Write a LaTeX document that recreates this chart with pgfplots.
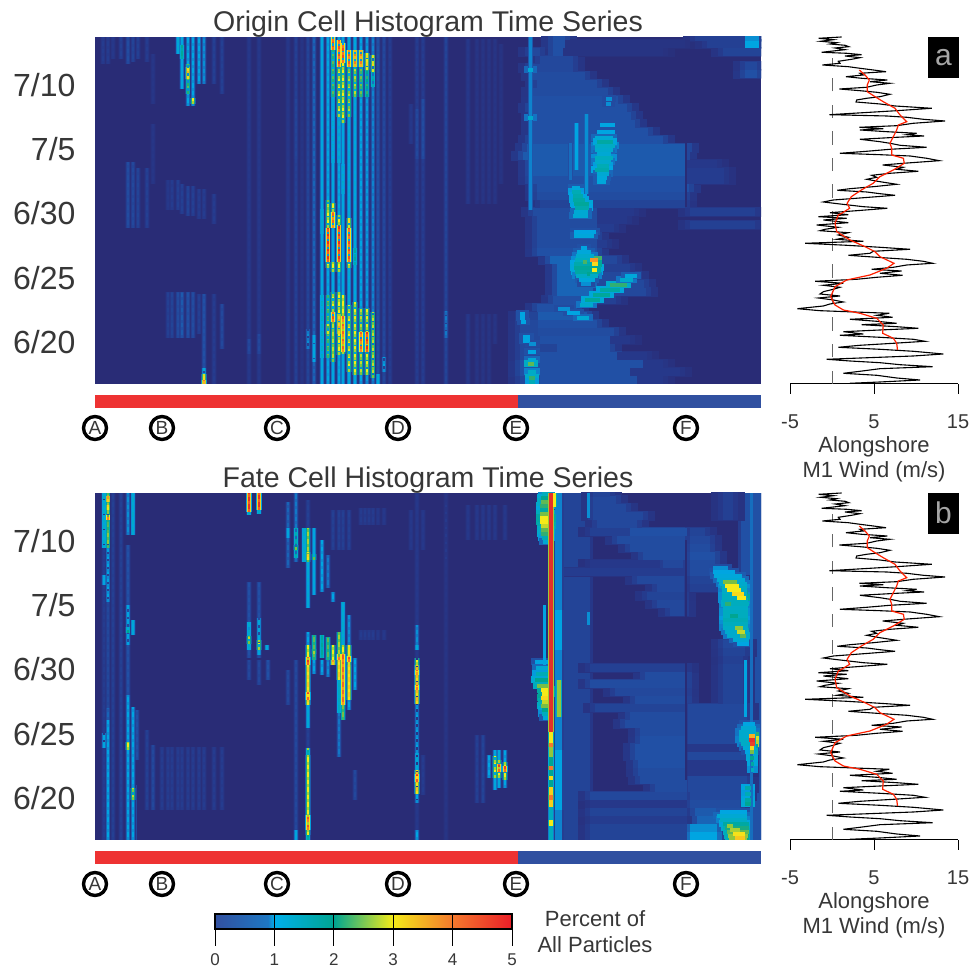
\documentclass[border=0pt]{standalone}
\usepackage{fontspec}
\setmainfont{Liberation Sans}
\usepackage{pgfplots}
\usepackage{pgfplotstable}
\pgfplotsset{compat=1.18}
\definecolor{txt}{RGB}{55,55,55}
\definecolor{barred}{RGB}{238,50,50}
\definecolor{barblue}{RGB}{48,80,160}
\definecolor{navy}{RGB}{41,44,118}
\pgfplotsset{
 colormap={heat}{rgb255(0cm)=(41,44,118); rgb255(3mm)=(38,56,138); rgb255(6mm)=(33,80,165); rgb255(8mm)=(18,120,198); rgb255(10mm)=(0,165,225); rgb255(15mm)=(0,172,190); rgb255(20mm)=(0,165,145); rgb255(25mm)=(120,190,70); rgb255(30mm)=(245,235,25); rgb255(35mm)=(250,190,30); rgb255(40mm)=(245,120,45); rgb255(50mm)=(225,30,40)},
 colormap={cb}{rgb255(0mm)=(50,80,160); rgb255(9mm)=(30,120,195); rgb255(10mm)=(0,175,235); rgb255(20mm)=(0,165,145); rgb255(30mm)=(245,235,25); rgb255(40mm)=(245,120,45); rgb255(50mm)=(235,30,40)},
}
\pgfplotstableread{
x y w m
445 4 123 .3
445 4 97 .6
445 12 140 .3
445 12 90 .6
445 20 123 .3
445 20 103 .6
445 28 107 .3
445 28 77 .6
442 36 20 .45
462 36 53 .6
445 44 90 .3
445 44 70 .6
442 52 77 .55
442 60 60 .6
442 68 50 .65
442 76 40 .6
458 84 30 .6
488 84 33 .4
462 92 37 .7
498 92 53 .5
462 100 40 .7
502 100 47 .5
462 108 40 .7
502 108 40 .5
462 116 47 .7
508 116 27 .4
455 124 47 .7
502 124 20 .5
442 132 60 .6
442 140 60 .55
502 140 10 .35
442 148 60 .55
442 156 60 .55
502 156 17 .35
442 164 60 .55
502 164 30 .3
438 172 64 .55
502 172 37 .3
595 172 65 .4
595 159 65 .4
445 180 145 .45
442 188 148 .55
442 196 152 .6
435 204 155 .6
592 204 37 .35
435 212 155 .65
592 212 37 .35
435 220 155 .65
592 220 30 .3
428 228 162 .65
432 236 160 .65
435 244 133 .6
438 252 115 .6
438 260 102 .6
438 268 98 .6
435 276 97 .6
438 284 85 .6
438 292 75 .55
442 300 60 .55
438 308 52 .55
435 316 43 .5
650 310 12 .6
650 318 12 .5
445 324 33 .5
468 332 100 .2
458 332 10 .6
435 332 10 .5
628 332 38 .45
468 340 122 .2
458 340 12 .6
612 340 54 .4
650 340 14 1
458 347 12 .6
600 347 66 .4
650 347 14 .9
425 4 20 .5
425 12 20 .6
425 20 20 .6
425 28 20 .5
425 36 20 .5
425 44 20 .5
425 52 18 .5
425 60 18 .5
425 68 18 .45
}\bandA
\pgfplotstableread{
x y w m
505 259 15 1
502 252 18 1
500 246 18 1.2
500 238 20 1.4
500 234 18 1.3
502 230 14 1.2
500 226 18 1.5
500 222 16 1.3
502 218 12 1.6
500 214 14 1.7
502 210 12 1.2
502 206 10 1.1
502 202 9 1.1
502 242 16 1.8
511 285 6 .9
511 280 5 .9
477 196 8 1.1
477 192 9 1.6
478 188 10 1.7
478 184 12 1.8
479 180 15 1.9
480 176 14 1.7
479 172 14 1.2
478 168 15 1.2
479 152 22 1
479 148 20 1.1
486 136 6 1
482 132 14 1.1
481 128 18 1.3
480 124 20 1.5
479 120 24 1.7
479 116 26 1.9
480 112 24 1.8
481 108 22 1.4
484 104 16 1.1
486 100 10 .9
488 122 4 2.3
495 124 8 3.8
497 120 6 3.2
497 114 5 3
492 110 3 2
485 79 13 1.3
490 84 15 1.9
498 89 17 1.9
505 94 20 1.8
515 99 17 2.2
525 104 13 1.3
530 108 12 1.1
463 75 12 .9
472 71 13 1
482 66 12 1.2
425 70 5 1
425 66 5 1
426 62 5 1
428 47 7 1
428 43 7 1
434 40 7 .9
433 32 8 1
433 24 8 1.2
433 20 6 2.4
433 12 8 1.4
434 6 6 2.2
434 2 6 1.6
433 314 5 1.2
433 266 5 1.3
}\spotA
\pgfplotstableread{
x y h m
8 320 27 .35
13 320 27 .35
18 325 22 .3
26 325 22 .4
33 320 27 .55
38 322 25 .45
43 325 22 .4
52 322 25 .35
33 156 66 .55
38 156 66 .5
43 156 60 .45
52 156 60 .4
58 200 60 .25
58 280 50 .25
73 174 30 .3
77 174 30 .35
83 330 17 1.2
83 174 30 .4
87 295 52 1.1
87 325 14 1.9
87 170 30 .4
93 278 69 1
93 290 30 2.4
93 305 12 3.6
93 168 30 .45
98 278 69 1
98 280 6 3
98 168 30 .4
104 300 47 1
104 165 30 .35
109 300 47 .9
109 165 30 .35
119 300 47 .4
119 160 30 .35
127 290 57 .4
73 46 46 .4
77 46 46 .45
83 46 46 .55
87 46 46 .65
93 46 46 .6
98 46 46 .55
104 50 40 .4
109 10 80 .6
109 0 16 1.2
109 0 10 3.2
109 0 4 4
119 0 90 .35
127 35 45 .5
154 0 347 .3
154 30 15 .5
164 0 347 .3
164 30 20 .5
193 0 347 .28
201 0 347 .4
201 225 60 .45
207 0 347 .22
213 0 347 .45
213 35 20 .9
219 0 347 .7
219 22 27 1.1
227 0 347 1.1
227 26 63 1.5
227 150 25 1.3
233 0 347 1.05
233 26 63 2.5
233 50 10 3.2
233 116 6 3
233 122 34 4.8
233 156 23 3
233 174 10 2.8
238 0 347 1.1
238 22 40 2.8
238 62 10 4.5
238 72 20 3
238 112 10 3
238 156 16 4.3
238 172 9 3
238 221 66 1.3
238 287 47 2.4
238 334 13 4.6
244 0 347 1.05
244 29 63 3
244 50 20 3.7
244 112 10 3
244 122 37 4.8
244 159 10 3
244 221 46 1.3
244 267 50 3
244 317 27 4.5
248 0 347 1.1
248 30 59 3
248 32 36 4.3
248 190 30 1.3
248 261 60 3
248 321 20 4.5
254 0 347 1.15
254 12 67 3
254 116 6 3
254 122 34 4.5
254 156 10 3.2
254 267 50 2.8
254 317 17 4.3
260 0 347 1.15
260 9 73 3
260 119 17 1.8
260 287 30 2.8
260 317 17 4
266 0 347 1
266 9 67 2.8
266 32 20 4.3
266 287 30 2.5
266 317 17 4
272 0 347 .95
272 9 67 3
272 32 20 4.8
272 287 27 2.2
272 314 17 3.3
278 0 347 .85
278 6 66 2.8
278 297 15 1.8
278 312 17 3.2
283 0 347 .6
283 0 10 1.2
289 0 347 .5
289 12 15 1
295 0 347 .35
322 0 347 .35
322 225 50 .5
328 0 347 .35
328 225 60 .55
316 240 40 .3
351 0 347 .45
351 46 27 .8
373 0 70 .3
373 180 165 .3
382 0 70 .22
382 180 165 .22
388 0 70 .22
388 180 165 .22
394 0 70 .22
394 180 165 .22
400 40 30 .22
400 180 165 .22
406 200 140 .2
}\stripeA
\pgfplotstableread{
x y h m
435 174 173 .85
481 214 47 1
491 190 80 .9
475 204 37 .75
}\stripeAr
\pgfplotstableread{
x y w m
495 4 97 .45
595 4 27 1
495 12 97 .45
595 12 27 .9
495 20 97 .35
602 20 25 .7
495 28 97 .45
600 28 35 .65
495 36 97 .3
595 36 50 .55
495 44 97 .5
595 44 55 .5
560 52 32 .55
545 60 47 .55
543 68 49 .55
543 76 49 .6
540 84 52 .6
540 92 52 .6
545 100 47 .6
545 108 47 .55
530 116 62 .55
535 124 57 .55
500 132 92 .45
540 140 52 .55
520 148 72 .5
495 156 97 .55
550 164 42 .55
495 172 97 .4
593 52 59 .5
593 60 59 .5
593 68 59 .3
593 76 59 .3
593 84 59 .5
593 92 59 .3
593 100 59 .5
593 108 59 .5
593 116 59 .5
593 124 59 .5
593 132 59 .5
628 140 20 .45
628 148 20 .45
628 156 20 .45
628 164 20 .45
628 172 20 .45
628 180 20 .4
628 188 22 .45
628 196 22 .5
575 228 14 .5
562 236 27 .5
552 244 37 .45
562 252 27 .5
595 252 33 .4
542 260 47 .5
595 260 50 .45
468 268 122 .35
595 268 25 .55
495 276 70 .3
568 276 20 .5
595 276 25 .55
548 284 43 .55
595 284 25 .6
535 292 57 .55
595 292 20 .55
522 300 68 .55
595 300 20 .5
495 308 40 .4
535 308 57 .6
595 308 15 .45
502 316 40 .5
498 324 50 .5
628 324 10 .4
498 332 33 .5
628 332 10 .4
498 340 23 .5
628 340 10 .4
498 347 17 .45
628 347 10 .4
}\bandB
\pgfplotstableread{
x y w m
618 272 15 .9
618 268 22 1
619 264 28 1.1
622 260 28 1.2
625 256 27 1.3
627 252 25 1.5
627 248 25 1.4
627 244 25 1.5
627 240 26 1.5
628 236 26 1.5
628 232 25 1.4
628 228 25 1.5
628 224 25 1.5
628 220 25 1.6
628 216 25 1.5
628 212 25 1.4
630 208 24 1.3
632 204 22 1.3
638 200 16 1.2
642 196 12 1
628 258 14 2.5
630 254 14 3
632 250 14 3
637 246 12 3.2
642 242 9 3
630 236 6 2.2
635 224 8 2
640 212 8 2.6
642 208 8 2.8
645 204 6 2.4
447 346 9 1.5
446 342 10 2
446 338 10 2.4
445 334 11 2.2
445 330 10 1.8
445 326 11 2.5
445 322 12 3
445 318 12 3
446 314 11 2.8
446 310 10 2.4
446 306 10 2.2
447 302 9 1.6
448 298 7 1.2
440 178 14 1
441 172 14 1.2
441 166 14 1.6
440 160 15 2
442 154 13 2.5
446 150 10 3
447 146 9 3
446 142 9 3.2
447 138 8 2.8
446 134 9 2.5
447 130 8 2
447 126 8 1.5
448 122 7 1.1
648 116 12 1
646 112 15 1.2
644 108 17 1.3
644 104 17 1.3
644 100 17 1.4
646 96 15 1.4
648 92 13 1.2
650 88 10 1
654 104 6 3.6
654 100 6 4.8
655 96 5 4.6
655 92 4 3.2
655 88 4 2.5
655 82 4 2
656 76 3 1.8
656 70 3 1.5
650 52 6 1.7
650 46 6 1.6
650 40 6 1.8
650 36 6 2
625 28 27 1
622 24 30 1.2
625 20 27 1.4
628 16 26 1.8
630 12 24 2.1
632 8 22 2.4
633 4 20 2.6
634 0 18 2.6
632 14 6 2.6
635 10 10 2.7
638 6 12 3.1
640 2 10 3.4
}\spotB
\pgfplotstableread{
x y h m
9 0 347 .35
9 292 55 1.4
9 255 10 1.1
9 92 15 1.1
13 0 347 .5
13 0 120 1
13 120 12 .7
13 238 57 1
13 292 55 2.6
13 338 6 3.8
13 330 5 3.3
13 320 5 4.4
13 310 10 2.4
18 0 347 .4
26 0 347 .4
33 305 42 .9
33 145 150 .6
33 195 40 1.1
33 207 6 2.2
33 0 145 1
33 90 8 3
38 305 42 1.3
38 205 15 1.2
38 0 133 1
38 40 12 2.8
42 80 50 .6
52 30 80 .4
58 30 65 .5
67 30 63 .35
73 30 63 .35
77 30 63 .35
83 30 63 .35
87 30 63 .35
93 30 63 .35
98 30 63 .35
104 30 63 .35
109 30 63 .35
119 30 63 .35
127 30 63 .35
154 328 19 4.8
154 325 3 1.5
154 182 76 .6
154 210 5 1
154 190 28 1.4
154 196 8 2.8
154 160 20 .5
164 330 17 4.8
164 326 4 1.5
164 182 76 .6
164 185 37 1.2
164 190 10 3
164 155 25 .5
172 190 5 1.2
173 160 20 .6
193 272 66 .7
193 302 10 1.1
193 135 35 .5
201 278 69 .8
201 282 30 1.8
201 290 5 2.8
201 0 180 .5
201 0 10 1.1
209 278 34 1.4
213 312 28 .4
213 278 34 2.7
213 280 8 3.3
213 232 46 1.2
213 195 13 1
213 135 60 3.4
213 180 15 3
213 175 8 4.7
213 140 8 4.6
213 112 23 1.2
213 92 20 .4
213 0 92 3
213 85 7 1.8
213 10 15 4.4
213 0 5 2
219 245 67 1.1
219 280 6 2.7
219 180 25 2.4
219 186 5 3
219 166 14 1
227 248 52 1
227 182 23 1.9
227 165 15 1
233 252 33 .8
233 180 23 2.4
233 163 17 .9
238 290 40 .4
238 238 10 1
238 175 20 3
238 175 5 3.8
244 290 40 .4
244 160 48 2.7
244 127 33 1.5
244 83 44 .8
244 160 20 3.4
244 180 6 4.5
248 290 40 .4
248 195 43 1.3
248 185 10 3
248 120 58 4.2
248 120 15 2.5
248 178 8 4.4
254 290 40 .4
254 195 30 .9
254 140 35 3.4
254 175 20 3.2
254 178 6 4.5
254 130 10 1
260 150 32 1
260 40 30 .5
266 315 17 .35
266 200 10 .35
270 315 17 .35
270 200 10 .35
274 315 17 .35
274 200 10 .35
278 315 17 .35
278 200 10 .35
283 315 17 .3
283 200 10 .3
289 315 17 .3
289 200 10 .3
322 0 347 .3
322 195 20 .9
322 190 5 1.2
322 136 44 3.6
322 175 7 3
322 150 5 4.4
322 165 5 4.2
322 87 49 1
322 70 17 1.3
322 46 24 3.5
322 58 8 4.8
322 37 9 1
322 0 10 1
316 290 40 .3
328 45 40 .35
328 290 40 .3
351 280 55 .35
351 0 347 .22
373 300 35 .3
382 37 68 .4
382 300 35 .3
388 37 68 .45
388 300 35 .3
394 62 23 1
394 300 35 .3
400 50 40 1.1
400 62 22 3
400 300 35 .3
404 52 38 1.1
404 62 18 3
404 68 8 4.7
410 52 38 1
410 60 18 3
410 68 6 4.6
410 300 35 .3
}\stripeB
\pgfplotstableread{
x y h m
493 322 25 .9
493 215 13 .9
449 175 60 1
650 123 57 1
656 0 347 .75
}\stripeBr
\pgfplotstableread{
x y h m
36 0 55 1.1
463 0 347 .85
463 190 40 1
463 30 60 1
}\coreB
\pgfplotstableread{
x y h m
464 123 37 2.6
459 333 14 3
456 108 239 4.8
456 97 11 3
456 93 4 4
456 83 10 2.6
456 53 30 2
456 60 4 3.2
456 70 4 4
456 33 20 3.3
456 40 5 4
456 0 33 1.5
456 14 6 3
}\redB
\pgfplotstableread{
x y h m
481 0 347 .45
659 0 347 .6
}\wideB
\pgfplotstableread{
x y h m
591 60 240 0
}\darkB
\pgfplotstableread{
x y h m
591 177 73 0
}\darkA
\pgfplotstableread{
w r
1.15 347
-1.6 345.7
.16 344.3
-1.35 342.7
.56 341.3
-.24 340
1.55 338.7
2 337.3
.36 336
1.55 334.3
.16 333
-1.23 331.7
1.75 330.7
3.53 329.3
1.55 328
3.33 326.3
2.34 324.7
.75 322.7
.95 320.7
-1.15 319
1.94 317.3
3.33 315.7
4.92 314
6.43 312.3
3.33 310.7
3.73 309
1.67 307.3
3.53 305.7
6.59 304
4.52 302.3
6.9 300.7
5.32 299
4.13 296.7
.87 295
3.33 293.3
5.32 291.7
6.9 289.7
5.71 287.3
4.13 285.7
2.94 284
2.86 282
5.71 280
7.5 278
11.87 275.7
7.7 273.3
3.73 271.3
-.32 269.3
6.51 268
8.89 266.7
10.87 264.7
13.45 263
9.68 260.7
7.7 258.3
3.25 256.7
6.11 255.3
3.33 254
6.51 252.3
10.08 250.7
8.89 249.3
10.95 248
7.7 246.7
3.33 244.7
5.71 242.3
6.9 240.7
8.1 238.7
11.27 236.7
6.9 234.7
4.13 232.7
.95 230.7
5.71 229.3
9.29 228
11.27 225.7
12.78 223.3
8.49 220.7
6.03 219
8.49 216.7
7.7 214.7
10.28 212.7
6.9 210.7
4.72 208.7
5.32 206.7
4.13 204.7
5.71 202.3
7.7 199.7
4.92 197.3
2.14 195.3
.63 193.7
4.13 192
5.71 190.3
7.5 188.7
3.33 186
.16 184
-1.03 182
.95 180
3.73 177.3
6.59 175.7
2.94 173.3
-.24 171.3
1.94 169.3
-1.63 167.3
1.75 165.7
-1.03 164
1.94 161.3
-1.83 159
.75 156.7
-.83 154.7
-1.43 153.3
1.94 151.3
.75 149
1.94 146.7
.56 144.7
3.73 142.7
-3.21 140.7
1.75 138.7
5.71 136.7
9.29 134.7
4.92 132.7
4.52 130.7
1.94 128.7
5.32 126.7
8.89 124.7
10.87 122.7
11.98 120.7
8.89 119
7.3 116.7
4.72 114.7
8.29 113
5.71 110.7
8.41 108.7
5.32 106.7
2.94 104.7
-2.02 102.7
1.35 100.7
-1.03 98.7
.95 96.7
.16 94.7
-1.03 92.3
-1.43 90
.95 88
-1.63 86
.16 84
1.35 82
-.24 80
-1.03 78
-4.13 75.3
-1.43 73.3
1.75 72.3
6.83 70.7
5.32 68.7
7.22 66.7
2.14 64.7
5.32 62.7
7.7 60.7
3.53 59.3
7.7 57.3
10.28 55.7
5.71 54
1.35 52.3
3.73 50
.95 48.7
5.71 46.7
9.68 44.7
11.07 42.7
7.3 40.7
3.33 38.7
.75 36.7
5.71 34.7
9.68 32.7
13.25 30
9.68 28
-.63 24.7
2.14 23
5.71 21.3
8.1 19.3
11.98 17.3
5.71 15.3
3.33 12.7
1.35 10.7
5.32 8.7
7.7 6
10.48 4
5.71 2
2.14 .7
}\windblack
\pgfplotstableread{
w r
3.25 314
3.93 309
4.44 304
4.2 299
4.2 292.3
5.12 287.3
6.1 282.3
7.5 275.7
8.1 269
8.9 262.3
7.9 259
7.7 254
7.3 247.3
6.9 240.7
7.1 235.7
7.1 229
8.5 225.7
8.6 220.7
7.3 214
5.7 207.3
4.9 200.7
3.5 194
2.3 187.3
1.8 180.7
2.1 175.7
1.15 170.7
.75 169
.36 160.7
.56 152.3
2.14 144
3.93 137.3
5.12 132.3
5.71 127.3
7.38 120.7
6.5 115.7
4.52 109
1.75 104
.36 97.3
-.16 87.3
.36 79
1.35 74
3.33 70.7
5.32 65.7
6.1 59
6.03 50.7
7.3 45.7
7.7 40.7
7.8 34
}\windred
\newcommand{\vs}[3]{\addplot[forget plot,quiver={u=0,v=\thisrow{h},colored=mapped color,every arrow/.append style={line width=#1}},line width=#1,point meta=\thisrow{m}*#2] table[x=x,y=y] {#3};}
\newcommand{\vb}[3]{\addplot[forget plot,quiver={u=0,v=\thisrow{h},colored=mapped color,every arrow/.append style={line width=#1,dash pattern=on 3pt off 4.5pt}},line width=#1,point meta=\thisrow{m}*#2] table[x=x,y=y] {#3};}
\newcommand{\hs}[4]{\addplot[forget plot,quiver={u=\thisrow{w}+2*#3,v=0,colored=mapped color,every arrow/.append style={line width=#1}},line width=#1,point meta=\thisrow{m}*#2] table[x expr=\thisrow{x}-#3,y=y] {#4};}
\pgfplotsset{
 heat/.style={scale only axis,width=666pt,height=347pt,xmin=0,xmax=666,ymin=0,ymax=347,
  colormap name=heat,point meta min=0,point meta max=5,
  axis background/.style={fill=navy},axis line style={draw=none},
  xtick=\empty,ytick={42,106,171,235,299},yticklabels={6/20,6/25,6/30,7/5,7/10},
  major tick length=0pt,
  yticklabel style={font=\fontsize{32}{32}\selectfont,text=txt,anchor=east,xshift=-16pt}},
 wind/.style={scale only axis,width=168pt,height=347pt,xmin=-5,xmax=15,ymin=0,ymax=347,
  axis y line=none,axis x line=bottom,x axis line style={-,black,line width=1pt},
  xtick={-5,5,15},xticklabels={-5,5,15},tick align=outside,major tick length=10pt,
  tick style={black,line width=1pt},
  xticklabel style={font=\fontsize{20}{20}\selectfont,text=txt,yshift=-17pt},clip=false},
}
\newcommand{\windplots}{%
 \addplot[forget plot,gray!80!black,line width=1pt,dash pattern=on 13.3pt off 13.3pt] coordinates {(0,0) (0,326)};
 \addplot[forget plot,black,line width=1.1pt] table[x=w,y=r] {\windblack};
 \addplot[forget plot,red!75!orange,line width=1.2pt] table[x=w,y=r] {\windred};
}
\begin{document}
\begin{tikzpicture}[x=1pt,y=1pt]
\path[use as bounding box] (0,0) rectangle (974,973);
% Origin
\begin{axis}[heat,at={(95pt,589pt)},anchor=south west]
\hs{10pt}{.45}{12}{\bandA}
\hs{9pt}{.75}{5}{\bandA}
\hs{8pt}{1}{0}{\bandA}
\vs{2pt}{1}{\darkA}
\vs{5.2pt}{.22}{\stripeA}
\vs{3.7pt}{.7}{\stripeA}
\vs{2.9pt}{1}{\stripeA}
\vb{2.9pt}{.9}{\stripeA}
\hs{7pt}{.6}{4}{\spotA}
\vs{5pt}{.75}{\stripeAr}
\vs{3pt}{1}{\stripeAr}
\hs{4pt}{1}{0}{\spotA}
\end{axis}
% Fate
\begin{axis}[heat,at={(95pt,133pt)},anchor=south west]
\vs{33pt}{.6}{\wideB}
\vs{27pt}{1}{\wideB}
\hs{10pt}{.45}{12}{\bandB}
\hs{9pt}{.75}{5}{\bandB}
\hs{8pt}{1}{0}{\bandB}
\vs{2pt}{1}{\darkB}
\vs{11pt}{.45}{\coreB}
\vs{7pt}{1}{\coreB}
\vs{5.2pt}{.22}{\stripeB}
\vs{3.7pt}{.7}{\stripeB}
\vs{2.9pt}{1}{\stripeB}
\vb{2.9pt}{.9}{\stripeB}
\hs{7pt}{.6}{4}{\spotB}
\vs{3pt}{1}{\stripeBr}
\hs{4pt}{1}{0}{\spotB}
\vs{6pt}{.55}{\redB}
\vs{4pt}{1}{\redB}
\end{axis}
% Wind
\begin{axis}[wind,at={(790pt,589pt)},anchor=south west]
\windplots
\end{axis}
\begin{axis}[wind,at={(790pt,133pt)},anchor=south west]
\windplots
\end{axis}
% Colour bar
\begin{axis}[scale only axis,width=297pt,height=15pt,at={(215pt,44pt)},anchor=south west,
 xmin=0,xmax=5,ymin=0,ymax=1,ytick=\empty,xtick={0,1,2,3,4,5},xtick pos=bottom,
 colormap name=cb,point meta min=0,point meta max=5,
 tick align=outside,major tick length=17pt,tick style={black,line width=1pt},
 axis line style={black,line width=1.2pt},xmajorgrids,grid style={black,line width=1pt},
 axis on top,
 xticklabel style={font=\fontsize{17}{17}\selectfont,text=txt,yshift=-4pt},
 /pgf/number format/assume math mode=true]
\addplot[surf,shader=interp,mesh/rows=2,point meta=x] coordinates {
(0,0) (.9,0) (1,0) (2,0) (3,0) (4,0) (5,0)
(0,1) (.9,1) (1,1) (2,1) (3,1) (4,1) (5,1)};
\end{axis}
% Titles
\node[text=txt,font=\fontsize{28.5}{30}\selectfont] at (428,949) {Origin Cell Histogram Time Series};
\node[text=txt,font=\fontsize{28.5}{30}\selectfont] at (428,493) {Fate Cell Histogram Time Series};
% State bars and station letters
\foreach \yb in {565,109}{
 \fill[barred] (95,\yb) rectangle (518,\yb+13);
 \fill[barblue] (518,\yb) rectangle (761,\yb+13);
}
\foreach \yc in {545,89}{
 \foreach \xc/\l in {95/A,162/B,277/C,398/D,516/E,686/F}{
  \node[circle,draw=black,line width=3.4pt,minimum size=23pt,inner sep=0pt,text=txt,font=\fontsize{19}{19}\selectfont] at (\xc,\yc) {\l};
 }
}
% Wind labels and badges
\node[text=txt,align=center,font=\fontsize{22}{25}\selectfont] at (874,514) {Alongshore\\M1 Wind (m/s)};
\node[text=txt,align=center,font=\fontsize{22}{25}\selectfont] at (874,58) {Alongshore\\M1 Wind (m/s)};
\fill[black] (928,895) rectangle (959,936);
\node[text=black!35,font=\fontsize{30}{30}\selectfont] at (943.5,915) {a};
\fill[black] (928,439) rectangle (959,480);
\node[text=black!35,font=\fontsize{30}{30}\selectfont] at (943.5,460) {b};
% Colour bar caption
\node[text=txt,align=center,font=\fontsize{22}{26}\selectfont] at (595,41) {Percent of\\All Particles};
\end{tikzpicture}
\end{document}
